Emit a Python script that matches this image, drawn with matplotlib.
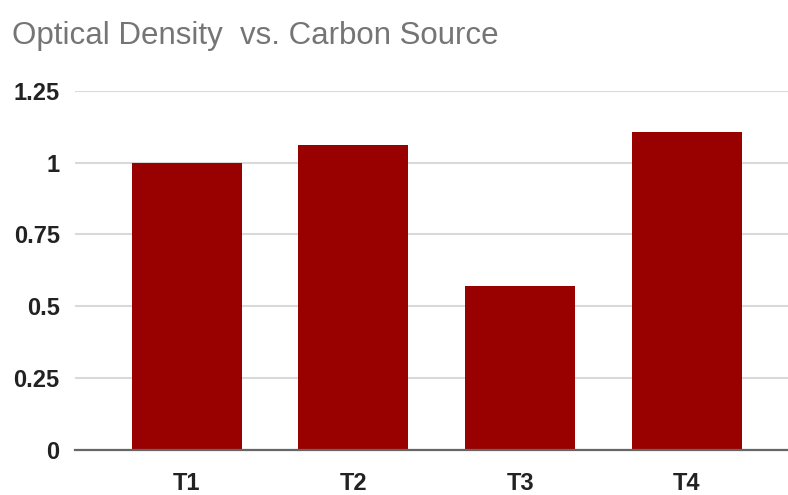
import matplotlib
matplotlib.use("Agg")
import matplotlib.pyplot as plt

plt.rcParams['font.family'] = ['Liberation Sans', 'DejaVu Sans']

# carbon source trials and measured optical density
labels = ["T1", "T2", "T3", "T4"]
od_values = [1.0, 1.062, 0.57, 1.108]
yticks = [0, 0.25, 0.5, 0.75, 1, 1.25]
ytick_labels = ["0", "0.25", "0.5", "0.75", "1", "1.25"]

fig = plt.figure(figsize=(7.88, 4.95), dpi=100)
ax = fig.add_axes([75 / 788, 1 - 450 / 495, 1 - 75 / 788, (450 - 90.7) / 495])

x = range(len(labels))
ax.bar(x, od_values, width=0.66, color="#990000", zorder=3)

ax.set_xlim(-0.67, 3.607)
ax.set_ylim(0, 1.25)
ax.set_yticks(yticks)
ax.set_yticklabels(ytick_labels)
ax.set_xticks(list(x))
ax.set_xticklabels(labels)

ax.grid(axis="y", color="#d9d9d9", linewidth=1.5, zorder=0)
ax.axhline(0, color="#666666", linewidth=1.6, zorder=4, clip_on=False)
for s in ax.spines.values():
    s.set_visible(False)

ax.tick_params(axis="y", length=0, pad=11, labelsize=17, labelcolor="#222222")
ax.tick_params(axis="x", length=0, pad=16, labelsize=17, labelcolor="#222222")
for t in ax.get_xticklabels() + ax.get_yticklabels():
    t.set_fontweight("bold")

fig.text(12 / 788, 1 - 44 / 495, "Optical Density  vs. Carbon Source",
         fontsize=22.5, color="#757575", ha="left", va="baseline")

fig.savefig("out.png", dpi=100)
